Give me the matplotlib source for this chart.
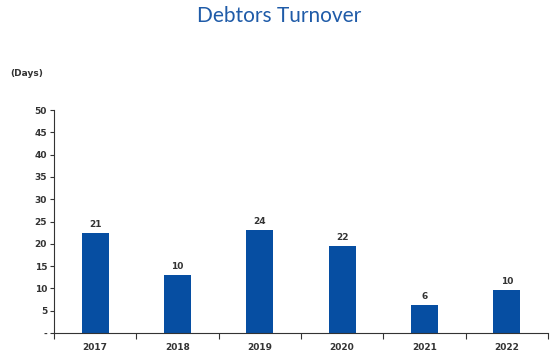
import matplotlib.pyplot as plt
import numpy as np

# data
years = ['2017', '2018', '2019', '2020', '2021', '2022']
bar_heights = [22.4, 13.0, 23.1, 19.5, 6.3, 9.6]
bar_labels = ['21', '10', '24', '22', '6', '10']
yticks = [0, 5, 10, 15, 20, 25, 30, 35, 40, 45, 50]
ytick_labels = ['-', '5', '10', '15', '20', '25', '30', '35', '40', '45', '50']

plt.rcParams['font.family'] = ['DejaVu Sans']

fig = plt.figure(figsize=(5.5, 3.53), dpi=100)
ax = fig.add_axes([0.0982, 0.0567, 0.898, 0.6315])

x = np.arange(len(years))
ax.bar(x, bar_heights, width=0.33, color='#064ea2')

# value labels above the bars
for xi, h, lab in zip(x, bar_heights, bar_labels):
    ax.annotate(lab, (xi, h), xytext=(0, 3), textcoords='offset points',
                ha='center', va='bottom', fontsize=6.5, fontweight='bold', color='#333333')

ax.set_xlim(-0.5, len(years) - 0.5)
ax.set_ylim(0, 50)
ax.set_yticks(yticks)
ax.set_yticklabels(ytick_labels)
ax.set_xticks(x)
ax.set_xticklabels(years)
ax.set_xticks(np.arange(len(years) + 1) - 0.5, minor=True)
ax.tick_params(axis='x', which='major', length=0, pad=7)
ax.tick_params(axis='x', which='minor', length=4, direction='out', width=0.8, color='#333333')
ax.tick_params(axis='y', length=3, width=0.8, pad=2, color='#333333')
for lab in ax.get_xticklabels() + ax.get_yticklabels():
    lab.set_fontsize(6.5)
    lab.set_fontweight('bold')
    lab.set_color('#333333')

ax.spines['top'].set_visible(False)
ax.spines['right'].set_visible(False)
ax.spines['left'].set_color('#333333')
ax.spines['bottom'].set_color('#333333')
ax.spines['left'].set_linewidth(0.8)
ax.spines['bottom'].set_linewidth(0.8)

fig.text(0.507, 0.955, 'Debtors Turnover', ha='center', va='center',
         fontsize=15, color='#1f5ba8', family='Lato')
fig.text(0.018, 0.793, '(Days)', ha='left', va='center',
         fontsize=6.5, fontweight='bold', color='#333333')

fig.savefig('out.png', dpi=100)
